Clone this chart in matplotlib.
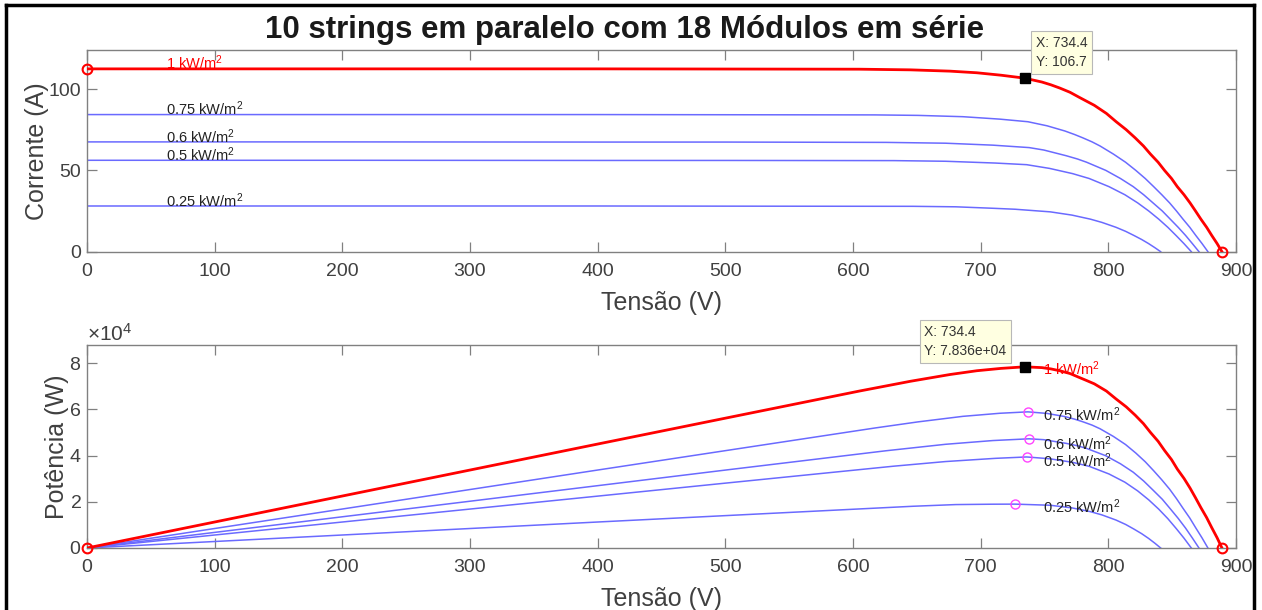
# -*- coding: utf-8 -*-
"""
Curvas I-V e P-V de um arranjo fotovoltaico (10 strings x 18 módulos)
para cinco níveis de irradiância.
"""

import numpy as np
import matplotlib
matplotlib.use("Agg")
import matplotlib.pyplot as plt
from matplotlib.lines import Line2D
from matplotlib.ticker import ScalarFormatter


# ---------- Dados (tensão em V, corrente em A) ----------
v_1000 = [0, 200, 400, 500, 605, 645, 676, 697, 716, 734.4, 748, 755, 762, 770,
          777, 783, 789, 798.5, 806, 814, 821, 827.5, 833, 839, 844, 849.5, 854,
          859.3, 864, 868.3, 872.5, 877, 881, 885.2, 889]
i_1000 = [112.4, 112.4, 112.4, 112.3, 112.2, 111.8, 111.0, 110.0, 108.5, 106.7,
          104.3, 102.6, 100.6, 98.0, 95.0, 92.5, 90.0, 85.0, 80.0, 75.0, 70.0,
          65.0, 60.0, 55.0, 50.0, 45.0, 40.0, 35.0, 30.0, 25.0, 20.0, 15.0,
          10.0, 5.0, 0.0]

v_750 = [0, 200, 400, 500, 617, 651, 686, 715, 737, 752, 766, 773.7, 780, 787.3,
         793.5, 804, 813.5, 821.5, 828.9, 835.5, 841.9, 848, 853.4, 858.5,
         863.8, 868.5, 873.4, 878]
i_750 = [84.3, 84.3, 84.3, 84.2, 84.1, 83.8, 83.0, 81.5, 79.9, 77.4, 74.2, 72.0,
         70.0, 67.5, 65.0, 60.0, 55.0, 50.0, 45.0, 40.0, 35.0, 30.0, 25.0, 20.0,
         15.0, 10.0, 5.0, 0.0]

v_600 = [0, 200, 400, 500, 626, 672.5, 709.5, 738, 749.5, 767, 775.8, 783, 798,
         809.5, 819.5, 827.7, 835, 842.3, 848.5, 854.7, 860.5, 865.8, 871]
i_600 = [67.5, 67.5, 67.4, 67.4, 67.2, 66.7, 65.5, 64.0, 62.5, 59.0, 57.0, 55.0,
         50.0, 45.0, 40.0, 35.0, 30.0, 25.0, 20.0, 15.0, 10.0, 5.0, 0.0]

v_500 = [0, 200, 400, 500, 632, 672.5, 711.5, 736, 754, 772, 785, 800.5, 813,
         823, 831.7, 839.5, 846.6, 853, 859.2, 865]
i_500 = [56.2, 56.2, 56.1, 56.1, 56.0, 55.6, 54.5, 53.5, 51.2, 48.0, 45.0, 40.0,
         35.0, 30.0, 25.0, 20.0, 15.0, 10.0, 5.0, 0.0]

v_250 = [0, 200, 400, 500, 647, 680.5, 709.5, 727, 754.5, 771.5, 786, 795, 806,
         813.6, 820, 826.1, 831.5, 836.4, 841]
i_250 = [28.1, 28.1, 28.1, 28.0, 27.9, 27.6, 26.7, 26.1, 24.5, 22.5, 20.0, 18.0,
         15.0, 12.5, 10.0, 7.5, 5.0, 2.5, 0.0]

rotulos = ["1 kW/m$^2$", "0.75 kW/m$^2$", "0.6 kW/m$^2$", "0.5 kW/m$^2$",
           "0.25 kW/m$^2$"]

# pontos de máxima potência marcados (tensão) nas curvas de menor irradiância
v_mpp = [737, 738, 736, 727]

# data tip sobre a curva de 1 kW/m2
tip_v = 734.4
tip_i = 106.7

titulo = "10 strings em paralelo com 18 Módulos em série"


# ---------- Estilo ----------
plt.rcParams["font.family"] = ["Liberation Sans", "DejaVu Sans"]
plt.rcParams["mathtext.default"] = "regular"

CINZA = "#404040"
VERMELHO = "#ff0000"
AZUL = "#6a6aff"

W, H = 1262, 610
fig = plt.figure(figsize=(W / 100, H / 100), dpi=100)


def caixa(esq, topo, dir_, base):
    return [esq / W, 1 - base / H, (dir_ - esq) / W, (base - topo) / H]


ax1 = fig.add_axes(caixa(87, 50, 1236, 251.7))
ax2 = fig.add_axes(caixa(87, 345, 1236, 548))

for ax in (ax1, ax2):
    ax.tick_params(direction="in", length=7, width=0.9, top=True, right=True,
                   colors="#808080", labelcolor=CINZA, labelsize=14)
    ax.tick_params(axis="x", pad=8)
    ax.tick_params(axis="y", pad=4)
    for sp in ax.spines.values():
        sp.set_color("#808080")
        sp.set_linewidth(1.0)
    ax.set_xlim(0, 900)
    ax.set_xticks(range(0, 901, 100))
    ax.set_xlabel("Tensão (V)", fontsize=18, color=CINZA, labelpad=8)

curvas = [(v_1000, i_1000), (v_750, i_750), (v_600, i_600),
          (v_500, i_500), (v_250, i_250)]

# ---------- Corrente x tensão ----------
for k, (v, i) in enumerate(curvas[::-1]):
    cor = VERMELHO if k == len(curvas) - 1 else AZUL
    lw = 2.0 if cor == VERMELHO else 1.1
    ax1.plot(v, i, color=cor, linewidth=lw, solid_joinstyle="round",
             zorder=3 if cor == VERMELHO else 2)

ax1.plot([v_1000[0], v_1000[-1]], [i_1000[0], i_1000[-1]], "o", mfc="none",
         mec=VERMELHO, ms=7, mew=1.5, clip_on=False, zorder=4)
ax1.plot(tip_v, tip_i, "s", color="k", ms=6.5, zorder=5)
ax1.annotate(f"X: {tip_v}\nY: {tip_i}", xy=(tip_v, tip_i),
             xytext=(11, 9), textcoords="offset pixels", ha="left", va="bottom",
             fontsize=10, color="#333333", linespacing=1.45,
             bbox=dict(boxstyle="square,pad=0.35", fc="#ffffe1", ec="#b8b8b8",
                       lw=0.8),
             annotation_clip=False, zorder=6)

for k, (v, i) in enumerate(curvas):
    ax1.text(62, i[0] + 3.5, rotulos[k], fontsize=10.5, va="center", ha="left",
             color=VERMELHO if k == 0 else "#222222", zorder=4)

ax1.set_ylim(0, 124)
ax1.set_yticks([0, 50, 100])
ax1.set_ylabel("Corrente (A)", fontsize=18, color=CINZA, labelpad=0)

# ---------- Potência x tensão ----------
for k, (v, i) in enumerate(curvas[::-1]):
    cor = VERMELHO if k == len(curvas) - 1 else AZUL
    lw = 2.0 if cor == VERMELHO else 1.1
    p = np.array(v) * np.array(i)
    ax2.plot(v, p, color=cor, linewidth=lw, solid_joinstyle="round",
             zorder=3 if cor == VERMELHO else 2)

ax2.plot([v_1000[0], v_1000[-1]], [0, 0], "o", mfc="none", mec=VERMELHO, ms=7,
         mew=1.5, clip_on=False, zorder=4)

for (v, i), vm in zip(curvas[1:], v_mpp):
    j = v.index(vm)
    ax2.plot(v[j], v[j] * i[j], "o", mfc="none", mec="#ff44ff", ms=6.5,
             mew=1.0, zorder=4)

tip_p = tip_v * tip_i
ax2.plot(tip_v, tip_p, "s", color="k", ms=6.5, zorder=5)
ax2.annotate(f"X: {tip_v}\nY: {tip_p:.3e}", xy=(tip_v, tip_p),
             xytext=(-18, 9), textcoords="offset pixels", ha="right",
             va="bottom", multialignment="left", fontsize=10, color="#333333",
             linespacing=1.45,
             bbox=dict(boxstyle="square,pad=0.35", fc="#ffffe1", ec="#b8b8b8",
                       lw=0.8),
             annotation_clip=False, zorder=6)

pos_rot = [7.74e4, 5.75e4, 4.53e4, 3.76e4, 1.79e4]
for k, y in enumerate(pos_rot):
    ax2.text(749, y, rotulos[k], fontsize=10.5, va="center", ha="left",
             color=VERMELHO if k == 0 else "#222222", zorder=4)

ax2.set_ylim(0, 8.78e4)
ax2.set_yticks([0, 2e4, 4e4, 6e4, 8e4])
fmt = ScalarFormatter(useMathText=True)
fmt.set_powerlimits((-3, 4))
ax2.yaxis.set_major_formatter(fmt)
ax2.yaxis.get_offset_text().set_fontsize(15)
ax2.yaxis.get_offset_text().set_color(CINZA)
ax2.set_ylabel("Potência (W)", fontsize=18, color=CINZA, labelpad=0)

# título geral
fig.text(625 / W, 1 - 30 / H, titulo, ha="center", va="center", fontsize=22.5,
         fontweight="bold", color="#1a1a1a")

# moldura preta em volta da figura
for xs, ys in [([6, 6], [5, H]), ([6, 1254], [5, 5]), ([1254, 1254], [5, H])]:
    fig.add_artist(Line2D([x / W for x in xs], [1 - y / H for y in ys],
                          color="k", linewidth=2.5))

fig.savefig("out.png", dpi=100)
plt.close(fig)
